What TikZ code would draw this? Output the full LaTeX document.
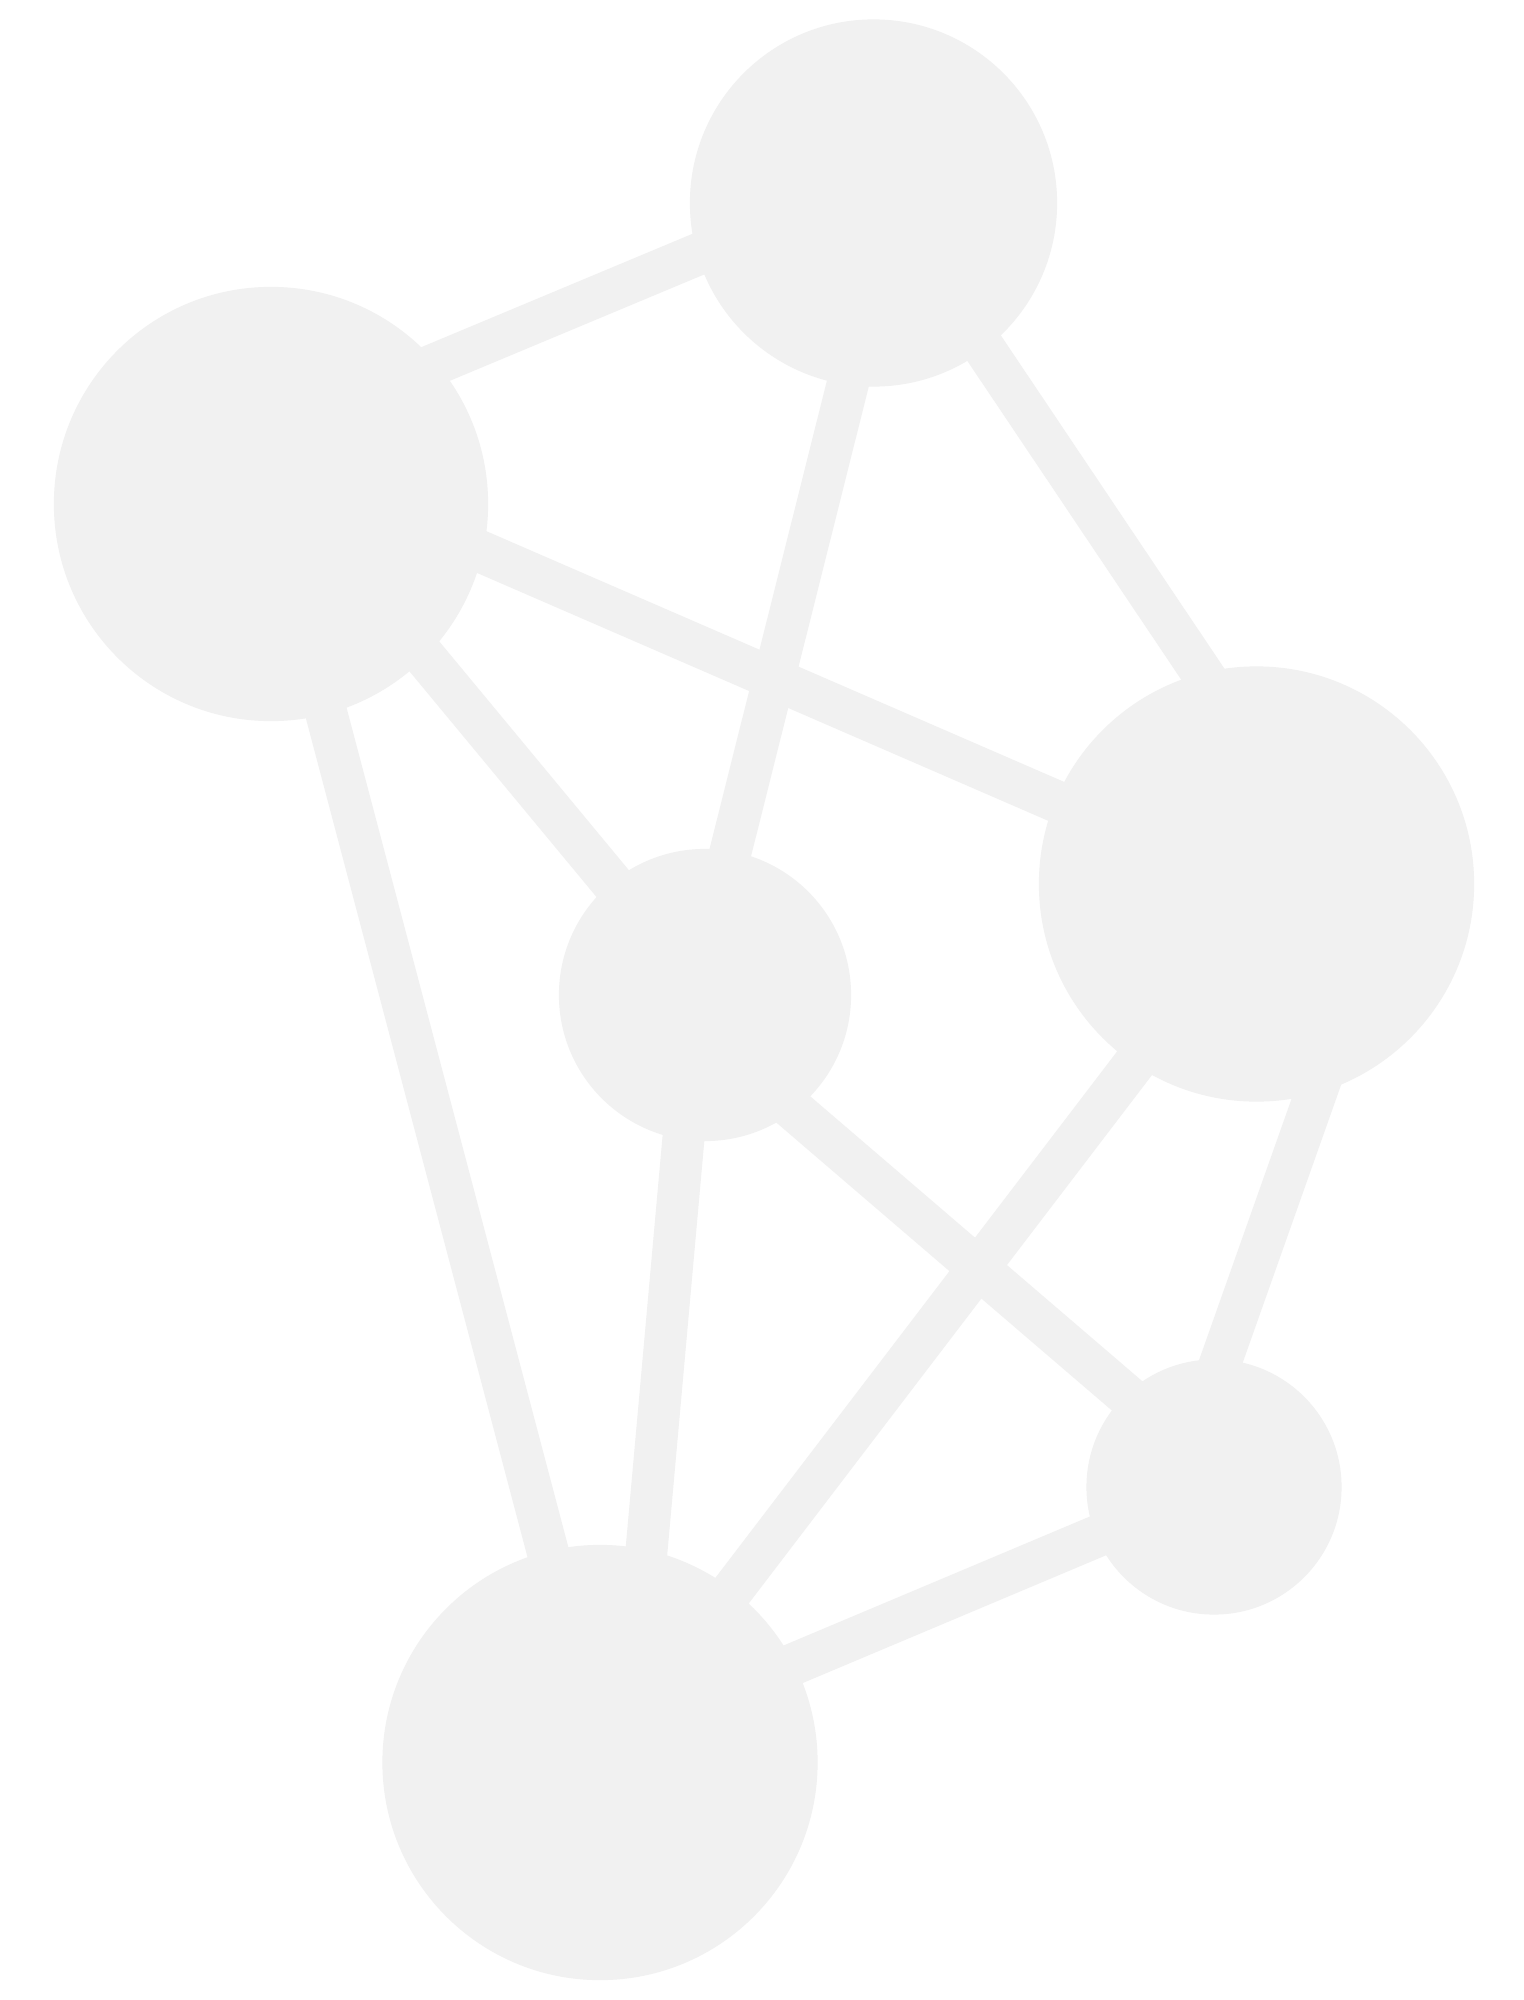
\documentclass[tikz,border=0pt]{standalone}
\usetikzlibrary{calc}
\definecolor{molgray}{RGB}{241,241,241}
\begin{document}
\begin{tikzpicture}[x=0.01cm,y=-0.01cm,
  atom/.style={circle,fill=molgray,draw=none,inner sep=0pt,outer sep=0pt},
  bond/.style={draw=molgray,line width=0.42cm,line cap=butt}]
\fill[white] (0,0) rectangle (1523,2000);
\useasboundingbox (0,0) rectangle (1523,2000);
% atoms
\node[atom,minimum size=3.67cm] (A) at (873.5,203) {};
\node[atom,minimum size=4.34cm] (B) at (271,504) {};
\node[atom,minimum size=4.35cm] (C) at (1256.5,884) {};
\node[atom,minimum size=2.92cm] (D) at (705,995) {};
\node[atom,minimum size=4.35cm] (E) at (600,1762.5) {};
\node[atom,minimum size=2.55cm] (F) at (1214,1487) {};
% bonds
\draw[bond] ($(B)+(0,-71.2)$) -- ($(A)+(0,-22.1)$);
\draw[bond] ($(A)+(19.6,0)$) -- ($(D)+(-10.4,0)$);
\draw[bond] ($(A)+(13.2,0)$) -- ($(C)+(87.1,0)$);
\draw[bond] ($(B)+(0,-43.4)$) -- ($(C)+(0,4.3)$);
\draw[bond] ($(B)+(27.1,0)$) -- (D.center);
\draw[bond] (B.center) -- ($(E)+(3.5,0)$);
\draw[bond] ($(D)+(-8.7,0)$) -- ($(E)+(27.5,0)$);
\draw[bond] ($(D)+(0,38.7)$) -- ($(F)+(0,-16.6)$);
\draw[bond] ($(C)+(14.8,0)$) -- ($(E)+(0.9,0)$);
\draw[bond] ($(C)+(133.4,0)$) -- ($(F)+(-37.6,0)$);
\draw[bond] ($(E)+(0,-16.9)$) -- (F.center);
\end{tikzpicture}
\end{document}
